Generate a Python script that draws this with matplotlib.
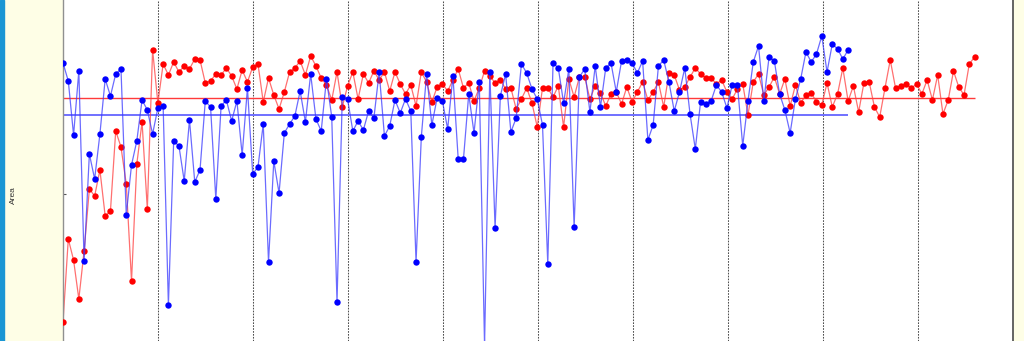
import numpy as np
import matplotlib.pyplot as plt

# sample values (arbitrary area units)
blue_area = [278, 260, 206, 270, 80, 187, 162, 207, 262, 245, 267, 272, 126, 176, 200, 241,
             231, 207, 233, 235, 36, 200, 195, 160, 221, 159, 171, 240, 234, 142, 235,
             241, 220, 240, 186, 253, 167, 174, 217, 79, 180, 148, 208, 217, 225, 250, 219,
             267, 222, 210, 262, 224, 39, 244, 242, 210, 220, 211, 230, 223, 269,
             205, 215, 241, 228, 242, 230, 79, 204, 267, 216, 243, 240, 212, 265, 182, 182,
             247, 208, 259, -4, 269, 113, 245, 267, 209, 223, 277, 268, 252, 242,
             216, 77, 278, 273, 238, 272, 114, 264, 272, 229, 275, 234, 273, 278, 249, 280,
             281, 278, 268, 280, 201, 216, 275, 281, 259, 230, 249, 273, 227, 192, 239,
             237, 240, 256, 249, 233, 256, 256, 195, 240, 279, 295, 240, 284, 280, 247, 231,
             208, 242, 262, 289, 279, 287, 305, 269, 297, 292, 282, 291]

red_area = [19, 102, 81, 42, 90, 152, 145, 171, 125, 130, 210, 194, 157, 60, 177, 219,
            132, 291, 238, 277, 266, 279, 269, 275, 272, 282, 281, 258, 260, 267, 266,
            273, 265, 252, 271, 259, 274, 277, 239, 263, 246, 232, 249, 269, 273, 280, 266,
            285, 275, 263, 256, 241, 269, 234, 255, 269, 242, 267, 258, 270, 261,
            269, 250, 269, 257, 247, 256, 235, 269, 259, 239, 254, 257, 250, 261, 272, 253,
            258, 240, 253, 270, 265, 258, 261, 252, 253, 232, 242, 253, 238, 214,
            253, 253, 244, 255, 214, 262, 244, 264, 264, 242, 255, 248, 235, 247, 249, 237,
            254, 239, 249, 259, 241, 249, 259, 234, 268, 266, 251, 254, 264, 273, 267,
            263, 263, 257, 261, 249, 242, 252, 257, 226, 259, 267, 246, 254, 264, 247, 262,
            235, 256, 238, 246, 248, 239, 236, 258, 234, 247, 273, 240, 255, 229,
            258, 259, 234, 224, 253, 281, 253, 255, 257, 253, 257, 247, 261, 241, 266, 227,
            241, 270, 254, 246, 277, 284]

red_mean = 242.7
blue_mean = 226.3

beige = '#fefee6'

fig = plt.figure(figsize=(10.24, 3.41), dpi=100, facecolor=beige)
fig.add_artist(plt.Rectangle((0, 0), 4 / 1024, 1, transform=fig.transFigure,
                             color='#1a96d4', zorder=0))

ax = fig.add_axes([62.5 / 1024, 0, 950 / 1024, 1])
ax.set_facecolor('white')

x_red = np.arange(len(red_area))
x_blue = np.arange(len(blue_area))

x0, x1 = -0.1, 180.2
ax.set_xlim(x0, x1)
ax.set_ylim(0, 341)

# dotted vertical grid, ten equal divisions
for gx in np.linspace(x0, x1, 11)[1:-1]:
    ax.axvline(gx, color='#505050', lw=0.75, ls=(0, (1.6, 1.2)), zorder=1)

ax.hlines(red_mean, x0, x_red[-1], color='#ff3a3a', lw=1.0, zorder=1.5)
ax.hlines(blue_mean, x0, x_blue[-1], color='#7070ff', lw=1.4, zorder=1.5)

ax.plot(x_red, red_area, color='#ff4040', lw=0.9, alpha=0.75, zorder=2)
ax.plot(x_red, red_area, 'o', color='#ff0000', ms=4.6, mew=0, zorder=3)
ax.plot(x_blue, blue_area, color='#3a3aff', lw=0.9, alpha=0.75, zorder=4)
ax.plot(x_blue, blue_area, 'o', color='#0000ff', ms=4.6, mew=0, zorder=5)

ax.spines['top'].set_visible(False)
ax.spines['bottom'].set_visible(False)
ax.spines['left'].set_color('#909090')
ax.spines['left'].set_linewidth(1.0)
ax.spines['right'].set_color('#4a4a4a')
ax.spines['right'].set_linewidth(1.2)

ax.set_xticks([])
ax.set_yticks([147])
ax.set_yticklabels([])
ax.tick_params(axis='y', direction='in', length=2.5, width=0.8, color='#555555')

fig.text(13 / 1024, 1 - 195 / 341, 'Area', rotation=90, ha='center', va='center',
         fontsize=6, family='Liberation Sans', color='#333333')

fig.savefig('out.png', dpi=100, facecolor=beige)
